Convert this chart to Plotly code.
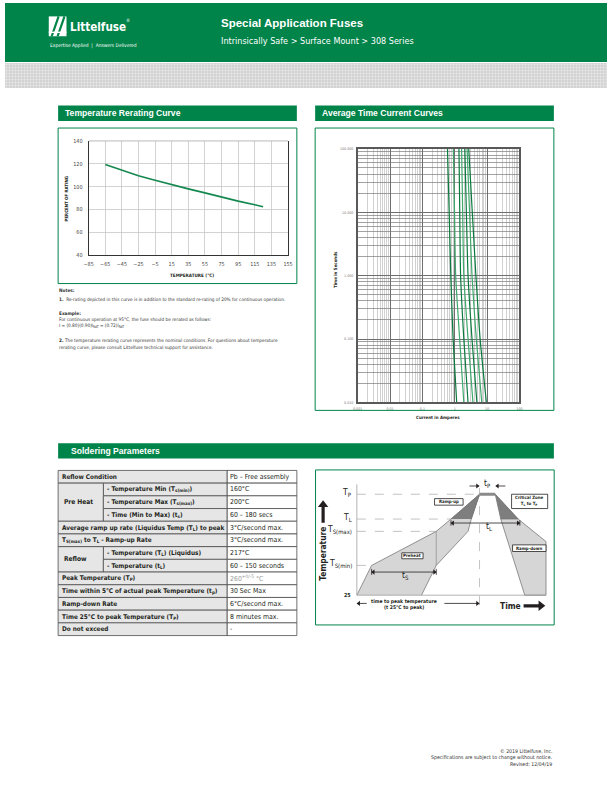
import math
import plotly.graph_objects as go

W, H = 612, 792
GREEN = "#00844A"
NARROW = "DejaVu Sans Condensed, DejaVu Sans, sans-serif"
SANS = "Liberation Sans, Arial, Helvetica, sans-serif"
INK = "#231F20"

# ---------------- data: temperature rerating ----------------
temp_c = [-65, -45, -25, -5, 15, 35, 55, 75, 95, 115, 125]
pct_rating = [119.5, 114.6, 109.6, 105.6, 101.6, 98.1, 94.6, 90.8, 87.4, 84.2, 82.5]
temp_ticks = [-85, -65, -45, -25, -5, 15, 35, 55, 75, 95, 115, 135, 155]
pct_ticks = [40, 60, 80, 100, 120, 140]

# ---------------- data: average time current curves ----------------
tc_time_s = [100, 10, 1, 0.1, 0.01]
amp_0375 = [0.597, 0.672, 0.757, 0.89, 1.15]
amp_050 = [0.907, 0.986, 1.07, 1.42, 1.91]
amp_075 = [1.35, 1.43, 1.52, 1.91, 2.58]
amp_100 = [1.63, 1.76, 1.91, 2.58, 3.66]
amp_125 = [2.05, 2.29, 2.58, 3.42, 4.84]
amp_150 = [2.41, 2.87, 3.42, 4.64, 6.85]
amp_200 = [2.71, 3.49, 4.51, 6.10, 9.50]
tc_curves = [amp_0375, amp_050, amp_075, amp_100, amp_125, amp_150, amp_200]
rating_labels = ["0.375A", "0.5A", "0.75A", "1A", "1.25A", "1.5A", "2A"]
rating_label_pos_A = [0.42, 0.756, 1.2, 1.91, 2.91, 4.33, 6.86]
curve_colors = ["#0A7A3E", "#3FA86C", "#0A7A3E", "#3FA86C", "#0A7A3E", "#3FA86C", "#0A7A3E"]
current_ticks = [0.001, 0.01, 0.1, 1, 10, 100]
current_ticktext = ["0.001", "0.01", "0.1", "1", "10", "100"]
time_ticks = [0.01, 0.1, 1, 10, 100]
time_ticktext = ["0.010", "0.100", "1.000", "10.000", "100.000"]

# ---------------- data: soldering table ----------------
row_main = ["Reflow Condition", "Pre Heat", None, None,
            "Average ramp up rate (Liquidus Temp (T<sub>L</sub>) to peak",
            "T<sub>S(max)</sub> to T<sub>L</sub> - Ramp-up Rate",
            "Reflow", None,
            "Peak Temperature (T<sub>P</sub>)",
            "Time within 5°C of actual peak Temperature (t<sub>p</sub>)",
            "Ramp-down Rate",
            "Time 25°C to peak Temperature (T<sub>P</sub>)",
            "Do not exceed"]
row_sub = [None,
           "- Temperature Min (T<sub>s(min)</sub>)",
           "- Temperature Max (T<sub>s(max)</sub>)",
           "- Time (Min to Max) (t<sub>s</sub>)",
           None, None,
           "- Temperature (T<sub>L</sub>) (Liquidus)",
           "- Temperature (t<sub>L</sub>)",
           None, None, None, None, None]
row_value = ["Pb – Free assembly", "160°C", "200°C", "60 – 180 secs",
             "3°C/second max.", "3°C/second max.", "217°C", "60 – 150 seconds",
             "260<sup>+0/-5</sup> °C", "30 Sec Max", "6°C/second max.",
             "8 minutes max.", "-"]

# ---------------- data: reflow profile (schematic units) ----------------
lvl_names = ["T<sub>P</sub>", "T<sub>L</sub>", "T<sub>S(max)</sub>", "T<sub>S(min)</sub>"]
lvl_y = [101.7, 76.7, 64.3, 30.0]
outer_left_x = [0, 15, 80.7, 95.7, 124.7]
outer_left_y = [0, 30, 64.3, 76.7, 101.7]
inner_left_x = [65.7, 80.7, 113, 116.3, 124.7]
inner_left_y = [0, 30, 64.3, 76.7, 101.7]
outer_right_x = [140.7, 164, 192.3, 192.3]
outer_right_y = [101.7, 76.7, 54, 0]
inner_right_x = [140.7, 146.3, 170.7]
inner_right_y = [101.7, 76.7, 0]
crit_left_x = [95.7, 124.7, 116.3]
crit_left_y = [76.7, 101.7, 76.7]
crit_right_x = [140.7, 164, 146.3]
crit_right_y = [101.7, 76.7, 76.7]

# ---------------- helpers ----------------
ann = []
shapes = []


def P(x, y):
    return x / W, 1 - y / H


def txt(x, y, s, size, color=INK, family=NARROW, xanchor="left", yanchor="middle", angle=0, align="left"):
    a, b = P(x, y)
    ann.append(dict(x=a, y=b, xref="paper", yref="paper", text=s, showarrow=False,
                    font=dict(size=size, color=color, family=family), xanchor=xanchor,
                    yanchor=yanchor, textangle=angle, align=align, borderpad=0))


def rect(x0, y0, x1, y1, fill="rgba(0,0,0,0)", line=None, lw=0):
    a0, b0 = P(x0, y0)
    a1, b1 = P(x1, y1)
    shapes.append(dict(type="rect", xref="paper", yref="paper", x0=a0, y0=b1, x1=a1, y1=b0,
                       fillcolor=fill, line=dict(color=line or "rgba(0,0,0,0)", width=lw),
                       layer="above"))


def pline(x0, y0, x1, y1, color, width, dash="solid"):
    a0, b0 = P(x0, y0)
    a1, b1 = P(x1, y1)
    shapes.append(dict(type="line", xref="paper", yref="paper", x0=a0, y0=b0, x1=a1, y1=b1,
                       line=dict(color=color, width=width, dash=dash), layer="above"))


def dtxt(x, y, s, size, color=INK, family=NARROW, xanchor="center", yanchor="middle", angle=0):
    ann.append(dict(x=x, y=y, xref="x3", yref="y3", text=s, showarrow=False,
                    font=dict(size=size, color=color, family=family), xanchor=xanchor,
                    yanchor=yanchor, textangle=angle, borderpad=0))


fig = go.Figure()


def dline(xs, ys, color, width, dash="solid"):
    fig.add_trace(go.Scatter(x=xs, y=ys, mode="lines", xaxis="x3", yaxis="y3",
                             line=dict(color=color, width=width, dash=dash), hoverinfo="skip"))


def darrow(xs, ys, heads, msize=4.5, width=0.8, color=INK):
    dline(xs, ys, color, width)
    for x, y, h in zip(xs, ys, heads):
        if h:
            fig.add_trace(go.Scatter(x=[x], y=[y], mode="markers", xaxis="x3", yaxis="y3",
                                     marker=dict(symbol=h, size=msize, color=color, line=dict(width=0)),
                                     hoverinfo="skip"))


def dbox(x0, y0, x1, y1):
    shapes.append(dict(type="rect", xref="x3", yref="y3", x0=x0, y0=y0, x1=x1, y1=y1,
                       fillcolor="white", line=dict(color=INK, width=0.8), layer="above"))


# ---------------- header ----------------
rect(0, 0, W, 59.5, fill=GREEN)
fig.add_trace(go.Bar(x=[0.5], y=[1], width=[1], xaxis="x4", yaxis="y4",
                     marker=dict(color="#D2D2D2", line=dict(width=0),
                                 pattern=dict(shape="+", fgcolor="white", bgcolor="#D2D2D2",
                                              size=3, solidity=0.35)),
                     hoverinfo="skip"))
rect(44.5, 13.5, 62.5, 33.5, fill="white")
pline(47.5, 33.5, 54.5, 13.5, GREEN, 2.2)
pline(53.5, 33.5, 60.5, 13.5, GREEN, 2.2)
pline(44.5, 29.5, 62.5, 29.5, "white", 1.4)
txt(65.5, 24.5, "<b>Littelfuse</b>", 11.6, color="white")
txt(122, 17.5, "®", 4.5, color="white")
txt(44.3, 42.7, "Expertise Applied  |  Answers Delivered", 4.9, color="white")
txt(218.3, 20, "<b>Special Application Fuses</b>", 11.5, color="white", family=SANS)
txt(218.3, 38.3, "Intrinsically Safe > Surface Mount > 308 Series", 9, color="white")

# ---------------- section headers ----------------
rect(54, 103.3, 296.7, 119, fill=GREEN)
txt(60, 111.2, "<b>Temperature Rerating Curve</b>", 8.6, color="white", family=SANS)
rect(315.3, 103.3, 558, 119, fill=GREEN)
txt(321.3, 111.2, "<b>Average Time Current Curves</b>", 8.6, color="white", family=SANS)
rect(54, 443.5, 558, 459, fill=GREEN)
txt(66, 451, "<b>Soldering Parameters</b>", 8.6, color="white", family=SANS)

rect(54, 126, 296.7, 282.7, line=GREEN, lw=1)
rect(315.3, 126, 558, 410.5, line=GREEN, lw=1)
rect(315.7, 470.5, 558.3, 626.7, line=GREEN, lw=1)

# ---------------- temperature rerating chart ----------------
fig.add_trace(go.Scatter(x=temp_c, y=pct_rating, mode="lines", xaxis="x", yaxis="y",
                         line=dict(color="#14884F", width=1.6), hoverinfo="skip"))
pline(85, 139, 287.7, 139, "#A8A8A8", 0.8)
txt(62.5, 196.5, "<b>PERCENT OF RATING</b>", 4.4, angle=-90, xanchor="center")
txt(190, 275, "<b>TEMPERATURE (°C)</b>", 4.6, xanchor="center")

notes = [
    (289.3, "<b>Notes:</b>"),
    (298.3, "<b>1.</b>  Re-rating depicted in this curve is in addition to the standard re-rating of 20% for continuous operation."),
    (313.3, "<b>Example:</b>"),
    (319.3, "For continuous operation at 95°C, the fuse should be rerated as follows:"),
    (325.3, "I = (0.80)(0.90)I<sub>RAT</sub> = (0.72)I<sub>RAT</sub>"),
    (340.0, "<b>2.</b> The temperature rerating curve represents the nominal conditions. For questions about temperature"),
    (346.7, "rerating curve, please consult Littelfuse technical support for assistance."),
]
for yy, s in notes:
    txt(53.5, yy, s, 4.7, color="#333333")

# ---------------- time current chart ----------------
for amps, col in zip(tc_curves, curve_colors):
    fig.add_trace(go.Scatter(x=amps, y=tc_time_s, mode="lines", xaxis="x2", yaxis="y2",
                             line=dict(color=col, width=1.2, shape="spline", smoothing=0.6),
                             hoverinfo="skip"))
label_base_s = 128.6
for lab, lx, amps in zip(rating_labels, rating_label_pos_A, tc_curves):
    shapes.append(dict(type="line", xref="x2", yref="y2", x0=lx, y0=label_base_s,
                       x1=amps[0], y1=tc_time_s[0], line=dict(color="#444", width=0.5),
                       layer="above"))
    ann.append(dict(x=math.log10(lx), y=math.log10(label_base_s) + 0.005, xref="x2", yref="y2",
                    text=lab, showarrow=False, textangle=-90, xanchor="center", yanchor="bottom",
                    font=dict(size=3.6, color="#555", family=NARROW), borderpad=0))
txt(336, 268.5, "<b>Time in Seconds</b>", 4.4, angle=-90, xanchor="center")
txt(440.5, 417.7, "<b>Current in Amperes</b>", 4.4, xanchor="center")

# ---------------- soldering table ----------------
c0, c1, c2, c3 = 54, 100, 225.7, 296.7
ty0, rh = 471, 12.8
LBL = "#E6E6E6"
BORDER = "#4D4D4D"
n = len(row_value)
for i in range(n):
    y0 = ty0 + i * rh
    y1 = y0 + rh
    yc = (y0 + y1) / 2
    rect(c2, y0, c3, y1, fill="white", line=BORDER, lw=0.8)
    txt(c2 + 2.2, yc, row_value[i], 6.9,
        color="#9A9A9A" if "<sup>" in row_value[i] else INK)
    if row_sub[i] is None:
        rect(c0, y0, c2, y1, fill=LBL, line=BORDER, lw=0.8)
        txt(c0 + 3, yc, "<b>" + row_main[i] + "</b>", 6.4)
    else:
        rect(c1, y0, c2, y1, fill=LBL, line=BORDER, lw=0.8)
        txt(c1 + 2.3, yc, "<b>" + row_sub[i] + "</b>", 6.4)
        if row_main[i] is not None:
            span = 1
            while i + span < n and row_main[i + span] is None and row_sub[i + span] is not None:
                span += 1
            ym1 = y0 + span * rh
            rect(c0, y0, c1, ym1, fill=LBL, line=BORDER, lw=0.8)
            txt(c0 + 5, (y0 + ym1) / 2, "<b>" + row_main[i] + "</b>", 6.6)

# ---------------- reflow profile diagram ----------------
fig.add_trace(go.Scatter(x=outer_left_x + inner_left_x[::-1], y=outer_left_y + inner_left_y[::-1],
                         mode="lines", fill="toself", fillcolor="#D6D6D6",
                         line=dict(color="#7A7A7A", width=0.8), xaxis="x3", yaxis="y3",
                         hoverinfo="skip"))
fig.add_trace(go.Scatter(x=outer_right_x + inner_right_x[::-1], y=outer_right_y + inner_right_y[::-1],
                         mode="lines", fill="toself", fillcolor="#D6D6D6",
                         line=dict(color="#7A7A7A", width=0.8), xaxis="x3", yaxis="y3",
                         hoverinfo="skip"))
for xs, ys in ((crit_left_x, crit_left_y), (crit_right_x, crit_right_y)):
    fig.add_trace(go.Scatter(x=xs, y=ys, mode="lines", fill="toself", fillcolor="#7E7E7E",
                             line=dict(color="#6E6E6E", width=0.6), xaxis="x3", yaxis="y3",
                             hoverinfo="skip"))
dline([outer_left_x[-1], outer_right_x[0]], [lvl_y[0], lvl_y[0]], "#8A8A8A", 3)
dline([outer_left_x[2], outer_left_x[2]], [outer_left_y[1], outer_left_y[2]], "#8A8A8A", 0.7)
dline([0, 0], [0, 111.7], "#A0A0A0", 0.8)
dline([0, outer_right_x[-1]], [0, 0], "#A0A0A0", 0.8)
guide_end = [outer_left_x[4], outer_left_x[3], outer_left_x[2], outer_left_x[1]]
for yv, xe in zip(lvl_y, guide_end):
    dline([0, xe], [yv, yv], "#9A9A9A", 0.6, dash="dash")
dline([outer_left_x[4], outer_left_x[4]], [-10, 111.7], "#9A9A9A", 0.6, dash="dash")

for nm, yv in zip(lvl_names, lvl_y):
    dtxt(-4, yv + 1.5, nm, 8.5, xanchor="right")
dtxt(-5, 0, "<b>25</b>", 5.4, xanchor="right")

darrow([97.5, 163.9], [72.7, 72.7], ["triangle-left", "triangle-right"])
dline([95.7, 95.7], [70, 75.5], INK, 0.8)
dline([165.7, 165.7], [70, 75.5], INK, 0.8)
dtxt(134.5, 69.5, "t<sub>L</sub>", 8.5)
darrow([16.8, 78.9], [23.3, 23.3], ["triangle-left", "triangle-right"])
dline([15, 15], [20.5, 26.5], INK, 0.8)
dline([80.7, 80.7], [20.5, 26.5], INK, 0.8)
dtxt(49, 19.5, "t<sub>S</sub>", 8.5)
darrow([114.5, 122.5], [110, 110], [None, "triangle-right"])
darrow([151, 143], [110, 110], [None, "triangle-left"])
dtxt(132.5, 112.5, "t<sub>P</sub>", 8.5)
darrow([10, 2], [-8.3, -8.3], [None, "triangle-left"])
darrow([89, 122.5], [-8.3, -8.3], [None, "triangle-right"])
dtxt(47.5, -6.7, "<b>time to peak temperature</b>", 5.0)
dtxt(47.5, -12.7, "<b>(t 25°C to peak)</b>", 5.0)
darrow([-34.3, -34.3], [73, 91], [None, "triangle-up"], msize=9, width=3.2)
dtxt(-34.5, 41.7, "<b>Temperature</b>", 8.4, angle=-90)
dtxt(156, -10.7, "<b>Time</b>", 8.4)
darrow([169.5, 187], [-10.7, -10.7], [None, "triangle-right"], msize=9, width=3.2)

dbox(79, 90.7, 108, 97.3)
dtxt(93.5, 94, "<b>Ramp-up</b>", 4.4)
dbox(157.3, 87.3, 194, 101.7)
dtxt(175.6, 94.5, "<b>Critical Zone<br>T<sub>L</sub> to T<sub>P</sub></b>", 4.4)
dbox(158.3, 44, 192.3, 50.7)
dtxt(175.3, 47.3, "<b>Ramp-down</b>", 4.4)
dbox(45.7, 36.7, 67.3, 42.7)
dtxt(56.5, 39.7, "<b>Preheat</b>", 4.4)

# ---------------- footer ----------------
txt(557.5, 754, "© 2019 Littelfuse, Inc.", 5.2, color="#333", xanchor="right")
txt(557.5, 760.7, "Specifications are subject to change without notice.", 5.2, color="#333", xanchor="right")
txt(557.5, 767.3, "Revised: 12/04/19", 5.2, color="#333", xanchor="right")

# ---------------- axes ----------------
minor_x = [m * 10 ** e for e in range(-3, 2) for m in range(2, 10)]
minor_y = [m * 10 ** e for e in range(-2, 2) for m in range(2, 10)]

fig.update_layout(
    width=W, height=H, margin=dict(l=0, r=0, t=0, b=0),
    paper_bgcolor="white", plot_bgcolor="white", showlegend=False,
    font=dict(family=NARROW, color=INK),
    xaxis=dict(domain=[85 / W, 287.7 / W], range=[-85, 155], tickvals=temp_ticks,
               showgrid=True, gridcolor="#C8C8C8", gridwidth=0.8, zeroline=False,
               showline=True, linecolor="#333", linewidth=1, ticks="outside", ticklen=3,
               tickcolor="rgba(0,0,0,0)", tickfont=dict(size=5.4, color="#444"),
               anchor="y", fixedrange=True),
    yaxis=dict(domain=[1 - 254.3 / H, 1 - 139 / H], range=[40, 140], tickvals=pct_ticks,
               showgrid=True, gridcolor="#C8C8C8", gridwidth=0.8, zeroline=False,
               showline=True, mirror=True, linecolor="#333", linewidth=1, ticks="outside",
               ticklen=4, tickcolor="rgba(0,0,0,0)", tickfont=dict(size=5.4, color="#444"),
               anchor="x", fixedrange=True),
    xaxis2=dict(type="log", domain=[358.5 / W, 523 / W], range=[-3, 2], tickvals=current_ticks,
                ticktext=current_ticktext, showgrid=True, gridcolor="#6E6E6E", gridwidth=1,
                minor=dict(tickvals=minor_x, showgrid=True, gridcolor="#BDBDBD", gridwidth=0.7),
                showline=True, mirror=True, linecolor="#595959", linewidth=1.6, zeroline=False,
                ticks="outside", ticklen=2, tickcolor="rgba(0,0,0,0)",
                tickfont=dict(size=3.6, color="#777"), anchor="y2"),
    yaxis2=dict(type="log", domain=[1 - 402.5 / H, 1 - 147 / H], range=[-2, 2], tickvals=time_ticks,
                ticktext=time_ticktext, showgrid=True, gridcolor="#6E6E6E", gridwidth=1,
                minor=dict(tickvals=minor_y, showgrid=True, gridcolor="#7A7A7A", gridwidth=0.7),
                showline=True, mirror=True, linecolor="#595959", linewidth=1.6, zeroline=False,
                ticks="outside", ticklen=2, tickcolor="rgba(0,0,0,0)",
                tickfont=dict(size=3.6, color="#777"), anchor="x2"),
    xaxis3=dict(domain=[315.7 / W, 558.3 / W], range=[-42, 200.6], visible=False, anchor="y3"),
    yaxis3=dict(domain=[1 - 626.7 / H, 1 - 470 / H], range=[-30, 126.7], visible=False, anchor="x3"),
    xaxis4=dict(domain=[0, 1], range=[0, 1], visible=False, anchor="y4"),
    yaxis4=dict(domain=[1 - 86 / H, 1 - 60.5 / H], range=[0, 1], visible=False, anchor="x4"),
    bargap=0,
    annotations=ann, shapes=shapes,
)

fig.write_html("out.html", config={"displayModeBar": False, "staticPlot": True},
               post_script="document.body.style.margin='0px';document.body.style.padding='0px';"
                           "document.documentElement.style.overflow='hidden';")
